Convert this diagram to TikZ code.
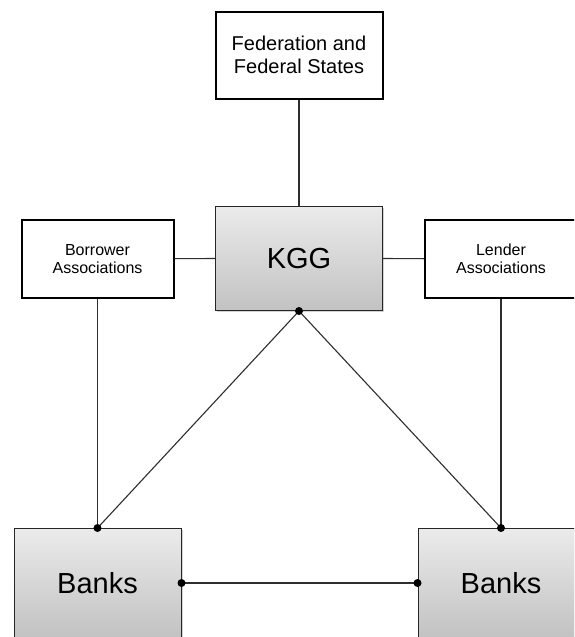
\documentclass[tikz,border=0pt]{standalone}
\usepackage{fontspec}
\setmainfont{Liberation Sans}
\usetikzlibrary{shadows}
\definecolor{boxtop}{HTML}{EBEBEB}
\definecolor{boxbot}{HTML}{C2C2C2}
\definecolor{linegray}{HTML}{2E2E2E}

\begin{document}
\begin{tikzpicture}[x=1pt, y=-1pt,
		plainbox/.style = {draw = black, line width = 2pt, fill = white, align = center, inner sep = 0pt},
		shadebox/.style = {draw = black!85, line width = 1pt, top color = boxtop, bottom color = boxbot,
			drop shadow = {shadow xshift = 1.5pt, shadow yshift = -1.5pt, opacity = .35}, inner sep = 0pt,
			font = \fontsize{29}{33}\selectfont},
		link/.style = {draw = linegray, line width = 1.1pt},
		dot/.style = {fill = black}]
		\fill [white] (0,0) rectangle (574,637);
		\useasboundingbox (0,0) rectangle (574,637);
		\clip (0,0) rectangle (574,637);
		
		\node [plainbox, minimum width = 167pt, minimum height = 87pt, font = \fontsize{20}{23.3}\selectfont]
			(fed) at (299, 55.2) {Federation and\\Federal States};
		\node [shadebox, minimum width = 167pt, minimum height = 104pt] (kgg) at (299, 258.5) {KGG};
		\node [plainbox, minimum width = 152pt, minimum height = 78pt, font = \fontsize{16}{18}\selectfont]
			(borrow) at (97.5, 258.7) {Borrower\\Associations};
		\node [plainbox, minimum width = 152pt, minimum height = 78pt, font = \fontsize{16}{18}\selectfont]
			(lend) at (501, 258.7) {Lender\\Associations};
		\node [shadebox, minimum width = 167pt, minimum height = 109pt] (bankl) at (97.5, 583) {Banks};
		\node [shadebox, minimum width = 166pt, minimum height = 109pt] (bankr) at (501, 583) {Banks};
		
		\begin{scope} [link]
		\draw (fed.south) -- (kgg.north);
		\draw (borrow.east) -- (kgg.west);
		\draw (kgg.east) -- (lend.west);
		\draw (kgg.south) -- (bankl.north);
		\draw (kgg.south) -- (bankr.north);
		\draw (borrow.south) -- (bankl.north);
		\draw (lend.south) -- (bankr.north);
		\draw (bankl.east) -- (bankr.west);
		\end{scope}
		
		\fill [dot] (kgg.south) circle (4pt);
		\fill [dot] (bankl.north) circle (4pt);
		\fill [dot] (bankr.north) circle (4pt);
		\fill [dot] (bankl.east) circle (4pt);
		\fill [dot] (bankr.west) circle (4pt);
		
		\end{tikzpicture}
\end{document}
